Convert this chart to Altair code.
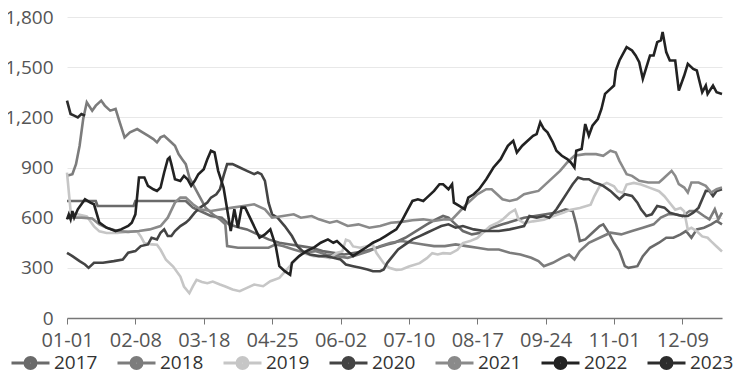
import altair as alt
import pandas as pd

years = ["2017", "2018", "2019", "2020", "2021", "2022", "2023"]
colors = ["#6a6a6a", "#7c7c7c", "#c6c6c6", "#444444", "#8a8a8a", "#222222", "#2c2c2c"]

tick_days = [0, 38, 76, 114, 152, 190, 228, 266, 304, 342]
tick_labels = ["01-01", "02-08", "03-18", "04-25", "06-02", "07-10", "08-17", "09-24", "11-01", "12-09"]
y_ticks = [0, 300, 600, 900, 1200, 1500, 1800]

d2017 = [0, 16, 17, 37, 38, 66, 70, 74, 80, 86, 90, 96, 100, 106, 112, 118, 124, 130, 136, 142, 148, 154, 160, 166, 172, 178, 182, 188, 194, 200, 205, 209, 212, 216, 220, 225, 230, 236, 242, 248, 254, 260, 266, 272, 277, 281, 283, 285, 288, 292, 296, 298, 301, 304, 307, 310, 312, 317, 320, 324, 329, 333, 337, 341, 344, 347, 350, 354, 358, 361, 364]
v2017 = [700, 700, 670, 670, 700, 700, 660, 640, 610, 600, 560, 540, 530, 500, 470, 450, 440, 430, 420, 400, 390, 380, 390, 400, 420, 440, 450, 480, 520, 560, 590, 610, 600, 560, 520, 500, 510, 540, 560, 580, 600, 610, 620, 630, 650, 640, 560, 460, 470, 510, 550, 560, 510, 450, 400, 310, 300, 310, 370, 420, 450, 480, 480, 500, 520, 480, 530, 540, 560, 580, 560]

d2018 = [0, 3, 5, 7, 9, 11, 14, 16, 19, 21, 24, 27, 29, 32, 35, 39, 42, 45, 48, 50, 52, 54, 57, 60, 62, 64, 66, 68, 71, 74, 77, 81, 85, 88, 89, 95, 105, 112, 116, 120, 126, 132, 138, 144, 150, 156, 162, 168, 174, 180, 186, 192, 198, 204, 210, 216, 222, 228, 234, 240, 246, 252, 258, 262, 265, 270, 275, 279, 282, 285, 290, 296, 302, 308, 314, 320, 326, 330, 334, 338, 342, 346, 350, 354, 357, 360, 362, 364]
v2018 = [850, 860, 920, 1030, 1190, 1290, 1240, 1270, 1300, 1270, 1240, 1250, 1180, 1080, 1110, 1130, 1110, 1090, 1070, 1050, 1080, 1090, 1060, 1030, 980, 950, 920, 840, 780, 720, 660, 620, 590, 560, 430, 420, 420, 420, 440, 430, 410, 390, 400, 380, 370, 360, 380, 400, 430, 450, 460, 450, 440, 430, 430, 440, 430, 420, 410, 410, 390, 380, 360, 340, 310, 330, 360, 380, 350, 400, 450, 480, 510, 500, 520, 540, 560, 600, 620, 620, 610, 640, 640, 610, 590, 650, 590, 630]

d2019 = [0, 2, 4, 7, 11, 15, 18, 22, 28, 33, 39, 41, 43, 47, 50, 52, 55, 59, 63, 65, 68, 70, 72, 75, 78, 81, 85, 88, 92, 96, 100, 104, 109, 113, 118, 122, 127, 131, 134, 137, 141, 146, 150, 153, 155, 157, 159, 163, 167, 170, 172, 176, 179, 183, 186, 190, 196, 200, 203, 206, 209, 213, 217, 220, 224, 228, 231, 235, 239, 242, 246, 249, 251, 254, 259, 265, 270, 276, 280, 285, 291, 293, 296, 300, 304, 306, 309, 311, 315, 319, 324, 329, 332, 335, 338, 341, 343, 345, 347, 350, 353, 356, 358, 361, 364]
v2019 = [870, 640, 625, 618, 608, 548, 518, 508, 508, 515, 518, 488, 448, 440, 438, 408, 348, 308, 248, 188, 148, 190, 228, 215, 208, 218, 200, 188, 170, 160, 180, 200, 190, 220, 240, 288, 348, 388, 380, 370, 370, 358, 390, 398, 468, 460, 428, 420, 430, 438, 388, 328, 300, 288, 290, 308, 328, 358, 388, 380, 388, 385, 408, 448, 460, 478, 508, 548, 568, 588, 628, 648, 588, 568, 578, 588, 608, 630, 648, 658, 678, 728, 788, 808, 788, 758, 748, 798, 808, 798, 778, 758, 728, 688, 648, 658, 638, 528, 540, 518, 488, 480, 458, 428, 398]

d2020 = [0, 3, 7, 10, 12, 15, 20, 26, 31, 34, 38, 41, 45, 47, 50, 52, 54, 56, 58, 60, 63, 66, 68, 71, 74, 78, 80, 83, 85, 87, 89, 92, 96, 100, 104, 106, 108, 110, 112, 114, 117, 121, 125, 128, 131, 135, 140, 144, 148, 152, 155, 159, 163, 167, 170, 174, 176, 178, 181, 184, 188, 192, 196, 200, 204, 208, 212, 216, 220, 226, 232, 240, 246, 250, 254, 257, 261, 265, 268, 272, 275, 278, 281, 284, 287, 290, 293, 296, 298, 302, 305, 307, 310, 314, 317, 319, 322, 325, 328, 332, 335, 338, 342, 345, 348, 351, 353, 355, 357, 359, 361, 364]
v2020 = [390, 370, 340, 320, 300, 330, 330, 340, 350, 390, 400, 430, 440, 480, 470, 510, 530, 490, 490, 520, 550, 570, 590, 630, 660, 690, 720, 740, 770, 850, 920, 920, 900, 880, 860, 870, 860, 820, 690, 620, 600, 550, 490, 430, 400, 380, 370, 370, 360, 350, 320, 310, 300, 290, 280, 280, 290, 330, 370, 410, 440, 470, 490, 510, 530, 550, 560, 540, 550, 530, 520, 520, 530, 540, 550, 610, 600, 610, 600, 650, 700, 750, 800, 840, 830, 830, 810, 800, 790, 760, 730, 710, 740, 730, 690, 650, 610, 620, 670, 660, 630, 620, 610, 610, 630, 660, 710, 760, 760, 730, 760, 770]

d2021 = [0, 8, 14, 18, 22, 28, 34, 40, 46, 52, 56, 60, 63, 66, 70, 74, 80, 86, 92, 98, 104, 110, 114, 120, 126, 130, 136, 140, 146, 150, 156, 162, 168, 174, 180, 186, 192, 198, 204, 210, 214, 222, 228, 233, 236, 239, 242, 246, 250, 254, 258, 262, 265, 268, 271, 274, 278, 282, 288, 294, 298, 302, 305, 307, 309, 311, 314, 318, 323, 329, 331, 336, 338, 340, 343, 345, 347, 351, 355, 358, 361, 364]
v2021 = [600, 600, 595, 560, 540, 520, 515, 520, 530, 550, 600, 690, 720, 720, 680, 650, 640, 650, 660, 670, 680, 650, 600, 610, 620, 600, 610, 590, 570, 580, 550, 560, 540, 550, 570, 575, 585, 590, 580, 590, 590, 680, 740, 770, 770, 740, 710, 700, 710, 740, 750, 760, 790, 820, 850, 880, 930, 970, 980, 980, 970, 1000, 990, 940, 900, 860, 850, 820, 810, 810, 830, 880, 850, 800, 780, 750, 810, 810, 790, 750, 770, 780]

d2022 = [0, 1, 2, 3, 4, 6, 10, 13, 15, 18, 22, 27, 30, 34, 36, 38, 40, 43, 45, 48, 50, 52, 54, 56, 57, 58, 60, 63, 65, 67, 69, 71, 73, 76, 78, 80, 82, 84, 87, 89, 91, 93, 95, 97, 99, 103, 107, 110, 113, 116, 118, 121, 124, 125, 129, 133, 137, 141, 145, 148, 150, 153, 156, 159, 163, 166, 170, 174, 177, 180, 183, 186, 189, 192, 195, 198, 200, 204, 207, 209, 212, 214, 215, 218, 221, 223, 226, 229, 233, 237, 241, 243, 245, 248, 250, 253, 256, 259, 261, 263, 265, 267, 270, 272, 275, 278, 280, 282, 283, 286, 288, 290, 292, 295, 297, 299, 302, 304, 305, 307, 311, 314, 316, 318, 320, 322, 324, 326, 328, 330, 331, 333, 335, 338, 340, 343, 345, 348, 350, 353, 355, 356, 359, 361, 364]
v2022 = [590, 620, 590, 640, 600, 650, 710, 690, 680, 570, 540, 520, 530, 550, 570, 620, 840, 840, 790, 770, 760, 780, 870, 950, 960, 920, 830, 820, 850, 830, 790, 820, 860, 890, 950, 1000, 990, 880, 780, 650, 520, 650, 540, 660, 660, 570, 480, 500, 530, 430, 310, 280, 258, 330, 370, 400, 420, 450, 470, 450, 460, 430, 400, 370, 400, 420, 450, 470, 490, 510, 530, 580, 640, 700, 710, 700, 720, 760, 800, 800, 770, 800, 690, 670, 650, 720, 740, 770, 830, 900, 950, 990, 1030, 1060, 990, 1030, 1060, 1090, 1100, 1170, 1130, 1110, 1050, 1000, 970, 950, 930, 900, 1000, 1010, 1160, 1090, 1150, 1190, 1250, 1340, 1370, 1390, 1480, 1540, 1620, 1600, 1570, 1530, 1430, 1500, 1570, 1570, 1650, 1660, 1710, 1590, 1540, 1540, 1360, 1450, 1520, 1490, 1480, 1350, 1390, 1340, 1390, 1350, 1340]

d2023 = [0, 2, 4, 6, 8, 10]
v2023 = [1300, 1220, 1210, 1200, 1220, 1210]

series_days = [d2017, d2018, d2019, d2020, d2021, d2022, d2023]
series_vals = [v2017, v2018, v2019, v2020, v2021, v2022, v2023]

rows = []
for yr, ds, vs in zip(years, series_days, series_vals):
    for d, v in zip(ds, vs):
        rows.append({"year": yr, "day": d, "value": v})
df = pd.DataFrame(rows)

label_expr = "[" + ",".join(f"'{t}'" for t in tick_labels) + "][indexof([" + ",".join(str(t) for t in tick_days) + "], datum.value)]"

# line with a filled dot (concentric circles stroked to look filled)
legend_symbol = (
    "M-1,0H-0.3M0.3,0H1"
    "M-0.29,0A0.29,0.29,0,1,1,0.29,0A0.29,0.29,0,1,1,-0.29,0"
    "M-0.17,0A0.17,0.17,0,1,1,0.17,0A0.17,0.17,0,1,1,-0.17,0"
    "M-0.06,0A0.06,0.06,0,1,1,0.06,0A0.06,0.06,0,1,1,-0.06,0"
)

chart = alt.Chart(df).mark_line(strokeWidth=2.6, interpolate="linear").encode(
    x=alt.X("day:Q",
            scale=alt.Scale(domain=[0, 364], nice=False, zero=False),
            axis=alt.Axis(values=tick_days, labelExpr=label_expr, title=None, grid=False,
                          domainColor="#777777", tickColor="#777777", tickSize=6,
                          labelFontSize=20, labelColor="#555555", labelPadding=6,
                          labelFont="Open Sans", domainWidth=1.5,
                          labelOverlap=False, labelBound=False, labelFlush=False)),
    y=alt.Y("value:Q",
            scale=alt.Scale(domain=[0, 1800], nice=False),
            axis=alt.Axis(values=y_ticks, format=",.0f", title=None, domain=False, ticks=False,
                          gridColor="#e8e8e8", labelFontSize=19, labelColor="#555555",
                          labelPadding=14, labelFont="Open Sans", labelOverlap=False)),
    color=alt.Color("year:N",
                    scale=alt.Scale(domain=years, range=colors),
                    legend=alt.Legend(title=None, orient="none", direction="horizontal",
                                      columns=7, legendX=-57, legendY=325,
                                      symbolType=legend_symbol, symbolSize=1444,
                                      symbolStrokeWidth=3, labelFontSize=19,
                                      labelFont="Open Sans", labelColor="#333333",
                                      labelOffset=3, columnPadding=13, padding=0)),
    order=alt.Order("year:N"),
).properties(
    width=655, height=301,
    padding={"left": 59, "top": 9, "right": 12, "bottom": 53},
    autosize="none",
).configure_view(stroke=None)

chart.save("out.html", embed_options={"renderer": "svg", "actions": False})
